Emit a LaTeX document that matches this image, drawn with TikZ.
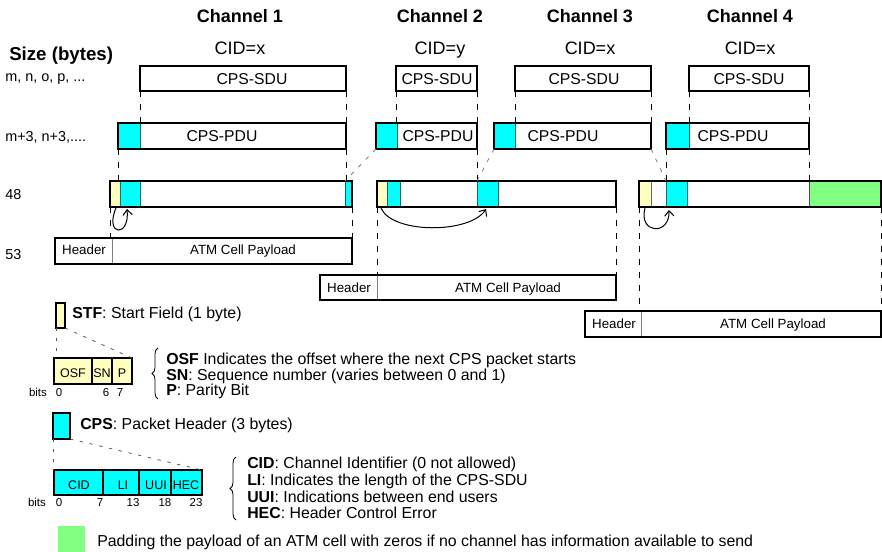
\documentclass[tikz,border=0pt]{standalone}
\usepackage{fontspec}
\setmainfont{Liberation Sans}
\usetikzlibrary{fit,arrows.meta,decorations.pathreplacing}
\definecolor{stfyel}{RGB}{255,255,192}
\definecolor{cpscyan}{RGB}{0,255,255}
\definecolor{padgreen}{RGB}{128,255,128}
\definecolor{segline}{RGB}{0,110,110}
\begin{document}
\begin{tikzpicture}[x=0.75pt,y=-0.75pt,
  thickbox/.style={draw=black, line width=2pt, inner sep=0pt, outer sep=0pt, rectangle},
  legbox/.style={draw=black, line width=1.5pt, inner sep=0pt, outer sep=0pt, rectangle},
  chtitle/.style={font=\fontsize{13.5}{16}\selectfont\bfseries, anchor=base, inner sep=0pt},
  cidlbl/.style={font=\fontsize{13.5}{16}\selectfont, anchor=base, inner sep=0pt},
  boxtxt/.style={font=\fontsize{11.8}{14}\selectfont, anchor=base, inner sep=0pt},
  sizelbl/.style={font=\fontsize{10.8}{13}\selectfont, anchor=base west, inner sep=0pt},
  atmtxt/.style={font=\fontsize{10}{12}\selectfont, anchor=base, inner sep=0pt},
  legtxt/.style={font=\fontsize{11.9}{14}\selectfont, anchor=base west, inner sep=0pt},
  fldtxt/.style={font=\fontsize{9.4}{11}\selectfont, anchor=base, inner sep=0pt},
  bitstxt/.style={font=\fontsize{8.6}{10}\selectfont, anchor=base, inner sep=0pt},
  vdash/.style={draw=black, line width=0.75pt, dash pattern=on 4.5pt off 5.25pt},
  gdash/.style={draw=gray, line width=0.6pt, dash pattern=on 3pt off 5pt},
  ldash/.style={draw=black!65, line width=0.6pt, dash pattern=on 2.5pt off 5pt},
  cyanseg/.style={fill=cpscyan, draw=segline, line width=0.6pt},
  yelseg/.style={fill=stfyel, draw=black!60, line width=0.6pt},
  greenseg/.style={fill=padgreen, draw=black!70, line width=0.6pt},
  hdrline/.style={draw=gray, line width=0.75pt},
  loopar/.style={draw=black, line width=0.75pt, -{Straight Barb[length=4pt,width=7pt]}},
  brc/.style={draw=black, line width=0.6pt, decorate, decoration={brace, amplitude=4.5pt}}
]
\useasboundingbox (0,0) rectangle (882,552);
\fill[white] (0,0) rectangle (882,552);

% ---- titles
\foreach \x/\n/\c in {240/1/x,440/2/y,590/3/x,750/4/x} {
  \node[chtitle] (ch\n) at (\x,23) {Channel \n};
  \node[cidlbl] (cid\n) at (\x,55) {CID=\c};
}

% ---- left column
\node[sizelbl, font=\fontsize{14}{16}\selectfont\bfseries] (szhead) at (9,61) {Size (bytes)};
\node[sizelbl] (szsdu) at (5,82) {m, n, o, p, ...};
\node[sizelbl] (szpdu) at (5,142) {m+3, n+3,....};
\node[sizelbl] (sz48) at (5,200) {48};
\node[sizelbl] (sz53) at (5,260) {53};

% ---- coloured segments
\filldraw[cyanseg] (118,123) rectangle (140,149);
\filldraw[cyanseg] (376,123) rectangle (397,149);
\filldraw[cyanseg] (494,123) rectangle (515,149);
\filldraw[cyanseg] (666,123) rectangle (689,149);

\filldraw[yelseg] (110,181) rectangle (120,207);
\filldraw[cyanseg] (120,181) rectangle (140,207);
\filldraw[cyanseg] (345,181) rectangle (352,207);
\filldraw[yelseg] (377,181) rectangle (387,207);
\filldraw[cyanseg] (387,181) rectangle (400,207);
\filldraw[cyanseg] (477,181) rectangle (498,207);
\filldraw[yelseg] (639,181) rectangle (651,207);
\filldraw[cyanseg] (666,181) rectangle (687,207);
\filldraw[greenseg] (809,181) rectangle (881,207);

% ---- header dividers
\draw[hdrline] (112,238) -- (112,264);
\draw[hdrline] (377,275) -- (377,300);
\draw[hdrline] (641,311) -- (641,337);

% ---- boxes
\node[thickbox, fit={(140,66) (346,91)}] (sdu1) {};
\node[thickbox, fit={(396,66) (477,91)}] (sdu2) {};
\node[thickbox, fit={(515,66) (651,91)}] (sdu3) {};
\node[thickbox, fit={(689,66) (809,91)}] (sdu4) {};
\node[thickbox, fit={(118,123) (346,149)}] (pdu1) {};
\node[thickbox, fit={(376,123) (477,149)}] (pdu2) {};
\node[thickbox, fit={(494,123) (651,149)}] (pdu3) {};
\node[thickbox, fit={(666,123) (809,149)}] (pdu4) {};
\node[thickbox, fit={(110,181) (352,207)}] (cela) {};
\node[thickbox, fit={(377,181) (616,207)}] (celb) {};
\node[thickbox, fit={(639,181) (881,207)}] (celc) {};
\node[thickbox, fit={(55,238) (352,264)}] (atm1) {};
\node[thickbox, fit={(320,275) (616,300)}] (atm2) {};
\node[thickbox, fit={(585,311) (881,337)}] (atm3) {};

% ---- box texts
\node[boxtxt] (sdut1) at (252,85) {CPS-SDU};
\node[boxtxt] (sdut2) at (437,85) {CPS-SDU};
\node[boxtxt] (sdut3) at (584,85) {CPS-SDU};
\node[boxtxt] (sdut4) at (749,85) {CPS-SDU};
\node[boxtxt] (pdut1) at (222,142) {CPS-PDU};
\node[boxtxt] (pdut2) at (438,142) {CPS-PDU};
\node[boxtxt] (pdut3) at (563,142) {CPS-PDU};
\node[boxtxt] (pdut4) at (733,142) {CPS-PDU};
\node[atmtxt] (hd1) at (84,255) {Header};
\node[atmtxt] (pl1) at (243,255) {ATM Cell Payload};
\node[atmtxt] (hd2) at (349,293) {Header};
\node[atmtxt] (pl2) at (508,293) {ATM Cell Payload};
\node[atmtxt] (hd3) at (614,329) {Header};
\node[atmtxt] (pl3) at (773,329) {ATM Cell Payload};

% ---- dashed guides SDU -> PDU
\foreach \i in {1,2,3,4} {
  \draw[vdash] (sdu\i.south west) -- (sdu\i.south west |- pdu\i.north);
  \draw[vdash] (sdu\i.south east) -- (sdu\i.south east |- pdu\i.north);
}
% PDU -> 48-byte payloads
\coordinate (c2hdr) at (345,181);
\coordinate (c3hdr) at (477,181);
\coordinate (c3end) at (666,181);
\draw[vdash] (pdu1.south west) -- (pdu1.south west |- cela.north);
\draw[vdash] (pdu1.south east) -- (pdu1.south east |- cela.north);
\draw[gdash] (pdu2.south west) -- (c2hdr);
\draw[vdash] (pdu2.south east) -- (pdu2.south east |- celb.north);
\draw[gdash] (pdu3.south west) -- (c3hdr);
\draw[gdash] (pdu3.south east) -- (c3end);
\draw[vdash] (pdu4.south west) -- (pdu4.south west |- celc.north);
\draw[vdash] (pdu4.south east) -- (pdu4.south east |- celc.north);
% 48 -> ATM cells
\draw[vdash] (cela.south west) -- (cela.south west |- atm1.north);
\draw[vdash] (cela.south east) -- (cela.south east |- atm1.north);
\draw[vdash] (celb.south west) -- (celb.south west |- atm2.north);
\draw[vdash] (celb.south east) -- (celb.south east |- atm2.north);
\draw[vdash] (celc.south west) -- (celc.south west |- atm3.north);
\draw[vdash] (celc.south east) -- (celc.south east |- atm3.north);

% ---- offset arrows
\coordinate (oa1) at (116,208);
\coordinate (ob1) at (127,209);
\coordinate (oa2) at (381,208);
\coordinate (ob2) at (486,209);
\coordinate (oa3) at (645,208);
\coordinate (ob3) at (669,210);
\draw[loopar] (oa1) .. controls (104,236) and (130,238) .. (ob1);
\draw[loopar] (oa2) .. controls (392,234) and (470,234) .. (ob2);
\draw[loopar] (oa3) .. controls (638,234) and (670,236) .. (ob3);

% ---- legend: STF
\node[legbox, fill=stfyel, fit={(56,303) (65,328)}] (stfbox) {};
\node[legtxt] (stftxt) at (72,319) {\textbf{STF}: Start Field (1 byte)};
\node[legbox, fill=stfyel, fit={(54,358) (132,384)}] (osfbox) {};
\draw[line width=1.5pt] (92,358) -- (92,384);
\draw[line width=1.5pt] (112,358) -- (112,384);
\draw[ldash] (stfbox.south west) -- (stfbox.south west |- osfbox.north);
\draw[ldash] (stfbox.south east) -- (osfbox.north east);
\node[fldtxt] (fosf) at (73,378) {OSF};
\node[fldtxt] (fsn) at (102,378) {SN};
\node[fldtxt] (fp) at (122,378) {P};
\node[bitstxt] (bits1) at (38,397) {bits};
\node[bitstxt] (b10) at (59,397) {0};
\node[bitstxt] (b16) at (106,397) {6};
\node[bitstxt] (b17) at (120,397) {7};
\draw[brc] (158,399) -- (158,348);
\node[legtxt] (osft) at (166,364) {\textbf{OSF} Indicates the offset where the next CPS packet starts};
\node[legtxt] (snt) at (166,380) {\textbf{SN}: Sequence number (varies between 0 and 1)};
\node[legtxt] (pt) at (166,396) {\textbf{P}: Parity Bit};

% ---- legend: CPS
\node[legbox, fill=cpscyan, fit={(53,413) (70,439)}] (cpsbox) {};
\node[legtxt] (cpstxt) at (80,429) {\textbf{CPS}: Packet Header (3 bytes)};
\node[legbox, fill=cpscyan, fit={(54,470) (202,495)}] (cidbox) {};
\draw[line width=1.5pt] (103,470) -- (103,495);
\draw[line width=1.5pt] (139,470) -- (139,495);
\draw[line width=1.5pt] (171,470) -- (171,495);
\draw[ldash] (cpsbox.south west) -- (cpsbox.south west |- cidbox.north);
\draw[ldash] (cpsbox.south east) -- (cidbox.north east);
\node[fldtxt] (fcid) at (79,489) {CID};
\node[fldtxt] (fli) at (123,489) {LI};
\node[fldtxt] (fuui) at (156,489) {UUI};
\node[fldtxt] (fhec) at (186,489) {HEC};
\node[bitstxt] (bits2) at (37,506) {bits};
\node[bitstxt] (b20) at (59,506) {0};
\node[bitstxt] (b27) at (100,506) {7};
\node[bitstxt] (b213) at (133,506) {13};
\node[bitstxt] (b218) at (165,506) {18};
\node[bitstxt] (b223) at (196,506) {23};
\draw[brc] (236,520) -- (236,457);
\node[legtxt] (cidt) at (247,468) {\textbf{CID}: Channel Identifier (0 not allowed)};
\node[legtxt] (lit) at (247,485) {\textbf{LI}: Indicates the length of the CPS-SDU};
\node[legtxt] (uuit) at (247,502) {\textbf{UUI}: Indications between end users};
\node[legtxt] (hect) at (247,518) {\textbf{HEC}: Header Control Error};

% ---- legend: padding
\node[fill=padgreen, inner sep=0pt, outer sep=0pt, fit={(58,526) (85,553)}] (padbox) {};
\node[legtxt] (padt) at (97,546) {Padding the payload of an ATM cell with zeros if no channel has information available to send};
\end{tikzpicture}
\end{document}
